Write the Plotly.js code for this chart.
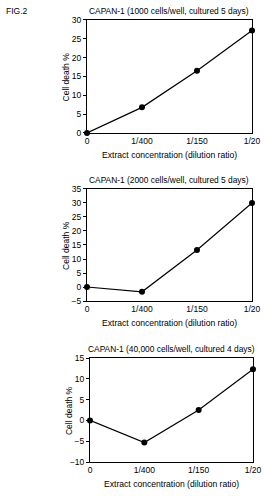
<!DOCTYPE html>
<html>
<head>
<meta charset="utf-8">
<script src="https://cdn.plot.ly/plotly-3.0.1.min.js"></script>
<style>
  html, body { margin: 0; padding: 0; background: #fff; }
  #chart { width: 264px; height: 496px; }
</style>
</head>
<body>
<div id="chart"></div>
<script>
// Dilution ratios shared by the three panels
const dilutions = ["0", "1/400", "1/150", "1/20"];

// Cell death (%) for each CAPAN-1 culture condition
const death1000 = [0, 6.8, 16.5, 27.2];
const death2000 = [0, -1.7, 13.2, 30.0];
const death40000 = [0, -5.3, 2.5, 12.3];

const panelTitles = [
  "CAPAN-1 (1000 cells/well, cultured 5 days)",
  "CAPAN-1 (2000 cells/well, cultured 5 days)",
  "CAPAN-1 (40,000 cells/well, cultured 4 days)"
];
const xTitle = "Extract concentration (dilution ratio)";
const yTitle = "Cell death %";

const yRanges = [[0, 30], [-5, 35], [-10, 15]];
const yTickSteps = [5, 5, 5];

const FONT = "Liberation Sans, Arial, sans-serif";
const positions = dilutions.map((_, i) => i);

const series = [death1000, death2000, death40000];
const xDomains = [[0.3295, 0.9545], [0.3295, 0.9545], [0.3409, 0.9583]];
const yDomains = [[0.7319, 0.9597], [0.3931, 0.6190], [0.0685, 0.2782]];

const traces = series.map((vals, k) => ({
  x: positions,
  y: vals,
  xaxis: k === 0 ? "x" : "x" + (k + 1),
  yaxis: k === 0 ? "y" : "y" + (k + 1),
  type: "scatter",
  mode: "lines+markers",
  line: { color: "#000", width: 1.2 },
  marker: { color: "#000", size: 6, symbol: "circle" },
  cliponaxis: false,
  hoverinfo: "skip",
  showlegend: false
}));

const layout = {
  width: 264,
  height: 496,
  margin: { l: 0, r: 0, t: 0, b: 0 },
  paper_bgcolor: "#fff",
  plot_bgcolor: "#fff",
  font: { family: FONT, size: 8.5, color: "#000" },
  annotations: [
    { text: "FIG.2", x: 4 / 264, y: 1 - 11 / 496, xref: "paper", yref: "paper",
      xanchor: "left", yanchor: "middle", showarrow: false, font: { size: 8.5 } }
  ]
};

series.forEach((_, k) => {
  const sfx = k === 0 ? "" : String(k + 1);
  const [y0, y1] = yRanges[k];
  layout["xaxis" + sfx] = {
    domain: xDomains[k],
    anchor: "y" + sfx,
    range: [0, 3],
    tickvals: positions,
    ticktext: dilutions,
    ticks: "",
    showgrid: false,
    zeroline: false,
    showline: true,
    mirror: true,
    linecolor: "#000",
    linewidth: 1,
    tickfont: { size: 8.5 },
    fixedrange: true
  };
  layout["yaxis" + sfx] = {
    domain: yDomains[k],
    anchor: "x" + sfx,
    range: [y0, y1],
    dtick: yTickSteps[k],
    tick0: 0,
    ticks: "outside",
    ticklen: 3,
    tickcolor: "#000",
    showgrid: false,
    zeroline: false,
    showline: true,
    mirror: true,
    linecolor: "#000",
    linewidth: 1,
    tickfont: { size: 8.5 },
    fixedrange: true
  };
  const xd = xDomains[k], yd = yDomains[k];
  const cx = (xd[0] + xd[1]) / 2;
  // panel title above the frame
  layout.annotations.push({
    text: panelTitles[k], xref: "paper", yref: "paper",
    x: cx, y: yd[1] + 9 / 496, xanchor: "center", yanchor: "middle",
    showarrow: false, font: { size: 8.4 }
  });
  // x axis title under the tick labels
  layout.annotations.push({
    text: xTitle, xref: "paper", yref: "paper",
    x: cx, y: yd[0] - 22 / 496, xanchor: "center", yanchor: "middle",
    showarrow: false, font: { size: 8.6 }
  });
  // rotated y axis title
  layout.annotations.push({
    text: yTitle, xref: "paper", yref: "paper",
    x: (xd[0] * 264 - 21) / 264, y: (yd[0] + yd[1]) / 2,
    xanchor: "center", yanchor: "middle", textangle: -90,
    showarrow: false, font: { size: 8.5 }
  });
});

Plotly.newPlot("chart", traces, layout, { staticPlot: true, displayModeBar: false });
</script>
</body>
</html>
